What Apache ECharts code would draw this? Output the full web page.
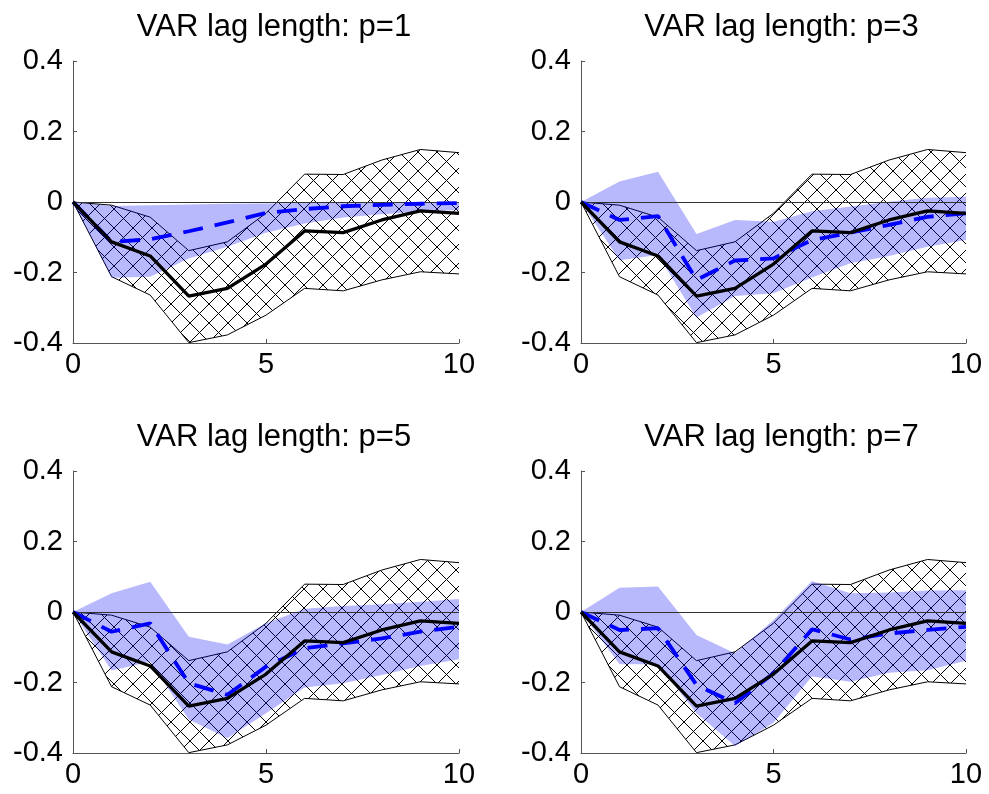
<!DOCTYPE html>
<html>
<head>
<meta charset="utf-8">
<script src="https://cdn.jsdelivr.net/npm/echarts@6/dist/echarts.min.js"></script>
<style>
html,body{margin:0;padding:0;background:#fff;}
#c{width:989px;height:794px;}
</style>
</head>
<body>
<div id="c"></div>
<script>
// Horizon
var horizons = [0,1,2,3,4,5,6,7,8,9,10];
var titles = ['VAR lag length: p=1','VAR lag length: p=3','VAR lag length: p=5','VAR lag length: p=7'];
var yTicks = [-0.4,-0.2,0,0.2,0.4];
var xTicks = [0,5,10];

// Shared benchmark response (black line) and its hatched band
var benchLine  = [0,-0.113,-0.153,-0.267,-0.245,-0.176,-0.082,-0.087,-0.051,-0.025,-0.032];
var benchUpper = [0,-0.009,-0.043,-0.138,-0.113,-0.032,0.079,0.078,0.119,0.149,0.140];
var benchLower = [0,-0.212,-0.264,-0.399,-0.377,-0.321,-0.245,-0.252,-0.221,-0.198,-0.204];

// VAR responses (blue dashed) and bands
var varLineP1  = [0,-0.113,-0.106,-0.083,-0.058,-0.031,-0.020,-0.012,-0.008,-0.005,-0.003];
var varUpperP1 = [0,-0.011,-0.009,-0.007,-0.005,-0.004,-0.002,-0.001,-0.001,0,0];
var varLowerP1 = [0,-0.215,-0.212,-0.160,-0.127,-0.087,-0.061,-0.044,-0.035,-0.027,-0.023];

var varLineP3  = [0,-0.051,-0.040,-0.221,-0.166,-0.160,-0.108,-0.087,-0.065,-0.042,-0.032];
var varUpperP3 = [0,0.058,0.086,-0.091,-0.051,-0.056,-0.026,-0.013,0.001,0.012,0.015];
var varLowerP3 = [0,-0.165,-0.150,-0.328,-0.267,-0.259,-0.214,-0.174,-0.153,-0.127,-0.108];

var varLineP5  = [0,-0.056,-0.032,-0.202,-0.235,-0.155,-0.103,-0.089,-0.075,-0.056,-0.042];
var varUpperP5 = [0,0.053,0.086,-0.070,-0.092,-0.032,0.009,0.017,0.022,0.029,0.037];
var varLowerP5 = [0,-0.166,-0.141,-0.305,-0.358,-0.287,-0.214,-0.202,-0.179,-0.153,-0.134];

var varLineP7  = [0,-0.051,-0.046,-0.207,-0.259,-0.174,-0.049,-0.078,-0.061,-0.051,-0.042];
var varUpperP7 = [0,0.069,0.072,-0.065,-0.117,-0.023,0.088,0.053,0.055,0.061,0.062];
var varLowerP7 = [0,-0.148,-0.148,-0.287,-0.380,-0.314,-0.183,-0.198,-0.172,-0.165,-0.138];

var panels = [
  {line: varLineP1, upper: varUpperP1, lower: varLowerP1},
  {line: varLineP3, upper: varUpperP3, lower: varLowerP3},
  {line: varLineP5, upper: varUpperP5, lower: varLowerP5},
  {line: varLineP7, upper: varUpperP7, lower: varLowerP7}
];

// crosshatch pattern
var tile = document.createElement('canvas');
var T = 19;
tile.width = T; tile.height = T;
var ctx = tile.getContext('2d');
ctx.strokeStyle = '#000';
ctx.lineWidth = 1;
ctx.beginPath();
ctx.moveTo(-1,-1); ctx.lineTo(T+1,T+1);
ctx.moveTo(T+1,-1); ctx.lineTo(-1,T+1);
ctx.stroke();

var FONT = "'Liberation Sans', Arial, sans-serif";
var grids = [
  {left:73, top:61, width:386, height:282},
  {left:581, top:61, width:385, height:282},
  {left:73, top:471, width:386, height:282},
  {left:581, top:471, width:385, height:282}
];

function pairs(ys){ return horizons.map(function(h,i){ return [h, ys[i]]; }); }
function bandData(l,u){ return horizons.map(function(h,i){ return [h, l[i], u[i]]; }); }

// band: one polygon built from all points through the axis scales
function bandSeries(i, data, fill, stroke, z){
  return {
    type:'custom', xAxisIndex:i, yAxisIndex:i, data:data, z:z, silent:true, clip:true,
    encode:{x:0, y:[1,2]},
    renderItem:function(params, api){
      if (params.dataIndex !== 0) return null;
      var up = [], lo = [];
      for (var k = 0; k < data.length; k++){
        lo.push(api.coord([data[k][0], data[k][1]]));
        up.push(api.coord([data[k][0], data[k][2]]));
      }
      var children = [{type:'polygon', shape:{points:lo.concat(up.slice().reverse())}, style:{fill:fill, stroke:null}}];
      if (stroke){
        children.push({type:'polyline', shape:{points:lo}, style:{stroke:stroke, lineWidth:1, fill:null}});
        children.push({type:'polyline', shape:{points:up}, style:{stroke:stroke, lineWidth:1, fill:null}});
      }
      return {type:'group', children:children};
    }
  };
}

var xAxes = [], yAxes = [], series = [], titleArr = [];
grids.forEach(function(g,i){
  titleArr.push({
    text: titles[i], left: g.left + g.width/2 + 3, top: g.top - 54, textAlign: 'center',
    textStyle: {fontFamily: FONT, fontSize: 31, fontWeight: 'normal', color: '#000'}
  });
  xAxes.push({
    type:'value', gridIndex:i, min:xTicks[0], max:xTicks[xTicks.length-1], interval:5,
    axisLine:{show:true, onZero:false, lineStyle:{color:'#555', width:1}},
    axisTick:{show:true, inside:true, length:4, lineStyle:{color:'#555'}},
    splitLine:{show:false},
    axisLabel:{fontFamily:FONT, fontSize:29, color:'#000', margin:7}
  });
  yAxes.push({
    type:'value', gridIndex:i, min:yTicks[0], max:yTicks[yTicks.length-1], interval:0.2,
    axisLine:{show:true, onZero:false, lineStyle:{color:'#555', width:1}},
    axisTick:{show:true, inside:true, length:4, lineStyle:{color:'#555'}},
    splitLine:{show:false},
    axisLabel:{fontFamily:FONT, fontSize:29, color:'#000', margin:10,
      formatter:function(v){ return String(parseFloat(v.toFixed(1))); }}
  });
  var p = panels[i];
  series.push(bandSeries(i, bandData(benchLower, benchUpper), {image:tile, repeat:'repeat'}, '#000', 2));
  series.push(bandSeries(i, bandData(p.lower, p.upper), 'rgba(0,0,245,0.28)', null, 3));
  // VAR dashed
  series.push({
    type:'line', xAxisIndex:i, yAxisIndex:i, data:pairs(p.line),
    symbol:'none', lineStyle:{color:'#0000ff', width:3.8, type:[20,12]}, z:5, silent:true
  });
  // benchmark
  series.push({
    type:'line', xAxisIndex:i, yAxisIndex:i, data:pairs(benchLine),
    symbol:'none', lineStyle:{color:'#000', width:3.3}, z:6, silent:true,
    markLine:{silent:true, symbol:'none', label:{show:false}, lineStyle:{color:'#333', width:1, type:'solid'},
      data:[{yAxis:0}], z:4}
  });
});

var chart = echarts.init(document.getElementById('c'), null, {renderer:'canvas'});
chart.setOption({
  animation:false,
  backgroundColor:'#fff',
  title:titleArr,
  grid:grids,
  xAxis:xAxes,
  yAxis:yAxes,
  series:series
});
</script>
</body>
</html>
